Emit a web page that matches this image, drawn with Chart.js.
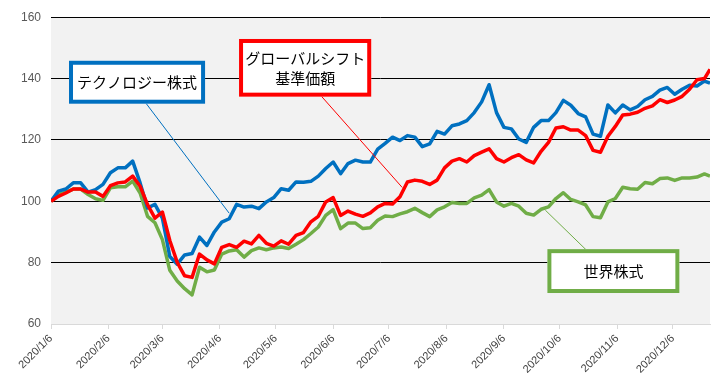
<!DOCTYPE html>
<html>
<head>
<meta charset="utf-8">
<script src="https://cdn.jsdelivr.net/npm/chart.js@4/dist/chart.umd.min.js"></script>
<style>
html,body{margin:0;padding:0;background:#fff;}
#c{display:block;}
</style>
</head>
<body>
<canvas id="c" width="720" height="388"></canvas>
<script>
const dates = ['2020/1/6','2020/1/10','2020/1/14','2020/1/18','2020/1/22','2020/1/26','2020/1/30','2020/2/3','2020/2/7','2020/2/11','2020/2/15','2020/2/19','2020/2/23','2020/2/27','2020/3/2','2020/3/6','2020/3/10','2020/3/14','2020/3/18','2020/3/22','2020/3/26','2020/3/30','2020/4/3','2020/4/7','2020/4/11','2020/4/15','2020/4/19','2020/4/23','2020/4/27','2020/5/1','2020/5/5','2020/5/9','2020/5/13','2020/5/17','2020/5/21','2020/5/25','2020/5/29','2020/6/2','2020/6/6','2020/6/10','2020/6/14','2020/6/18','2020/6/22','2020/6/26','2020/6/30','2020/7/4','2020/7/8','2020/7/12','2020/7/16','2020/7/20','2020/7/24','2020/7/28','2020/8/1','2020/8/5','2020/8/9','2020/8/13','2020/8/17','2020/8/21','2020/8/25','2020/8/29','2020/9/2','2020/9/6','2020/9/10','2020/9/14','2020/9/18','2020/9/22','2020/9/26','2020/9/30','2020/10/4','2020/10/8','2020/10/12','2020/10/16','2020/10/20','2020/10/24','2020/10/28','2020/11/1','2020/11/5','2020/11/9','2020/11/13','2020/11/17','2020/11/21','2020/11/25','2020/11/29','2020/12/3','2020/12/7','2020/12/11','2020/12/15','2020/12/19','2020/12/23','2020/12/26'];

const techValues = [100,103.3,104,106,106,103,103.8,105.5,109.3,110.9,110.9,113.1,106,97.8,99,94.5,82,79.5,82.5,83,88.3,85.6,90,93.2,94.3,99,98.1,98.4,97.6,99.8,101.2,104.1,103.6,106.3,106.2,106.5,108.2,110.7,112.8,109,112.3,113.4,112.8,112.8,117,118.9,120.9,119.8,121.4,120.9,117.8,118.7,122.8,121.9,124.6,125.2,126.3,128.9,132.4,138,128.9,124.1,123.6,120.3,119.2,124.1,126.3,126.3,128.9,132.9,131.3,128.6,127.5,121.9,121.2,131.4,128.8,131.4,129.8,130.9,133.1,134.2,136.2,137.1,134.9,136.5,137.8,137.6,139.2,138.5];

const fundValues = [100,101.6,102.7,104,104,103,103,101.6,105.1,106,106.3,108.2,104.9,98.9,94.5,96.5,87.2,80.1,75.7,75.2,82.8,80.9,79.6,85,85.9,85,87,86.1,88.9,86.3,85.4,87.1,86,88.9,89.8,93.3,95.1,99.8,101.2,95.4,96.8,95.8,95.1,96.2,98.2,99.3,99.1,101.5,106.3,106.9,106.5,105.5,106.9,110.9,113.1,113.9,112.8,114.9,116,117.1,113.9,112.8,114.2,115.2,113.5,112.5,116.3,119.2,123.9,124.3,123.2,123.2,121.4,116.6,116,121.2,124.4,128.1,128.4,129,130.3,131.1,133.1,132.2,133,134.2,136.5,139.6,140,143];

const worldValues = [100,102.2,103,104,104,102.2,100.8,100.3,104.4,104.7,104.7,106.6,102.7,95.1,93,87.5,77.5,74,71.5,69.5,78.5,77,77.6,82.8,83.8,84.2,81.8,83.9,84.8,84.2,84.8,85.1,84.6,86,87.5,89.5,91.6,95.4,97.3,91.1,92.9,92.9,91.1,91.4,93.8,95.2,95,95.9,96.6,97.7,96.3,95,97.2,98.2,99.6,99.3,99.3,101.1,102,103.8,99.8,98.4,99.3,98.4,96.1,95.5,97.4,98.2,100.9,102.8,100.6,99.8,98.8,95,94.6,99.8,100.9,104.6,104.1,103.9,106.1,105.7,107.4,107.6,106.8,107.6,107.6,107.9,108.9,108.2];

const tickLabels = ['2020/1/6','2020/2/6','2020/3/6','2020/4/6','2020/5/6','2020/6/6','2020/7/6','2020/8/6','2020/9/6','2020/10/6','2020/11/6','2020/12/6'];

const seriesNames = ['グローバルシフト基準価額','テクノロジー株式','世界株式'];

function dayOffset(s){
  const p = s.split('/').map(Number);
  return Math.round((Date.UTC(p[0],p[1]-1,p[2]) - Date.UTC(2020,0,6))/86400000);
}
function pts(vals){ return dates.map((d,i)=>({x:dayOffset(d), y:vals[i]})); }

// callouts anchored in data coordinates (day offset, value)
const callouts = [
  {text:['テクノロジー株式'], color:'#0070c0', box:[9.7,145.8,83,131.8], line:[50.1,132.8,96,96.1]},
  {text:['グローバルシフト','基準価額'], color:'#ff0000', box:[101.3,152.9,172.5,134.1], line:[145,134.7,189.2,104.5]},
  {text:['世界株式'], color:'#70ad47', box:[267.4,84.4,338.5,70.1], line:[266.3,97.1,288.4,84.1]}
];

const bgPlugin = {
  id:'bg',
  beforeDraw(chart){
    const {ctx, chartArea:a} = chart;
    ctx.save();
    ctx.fillStyle = '#ffffff';
    ctx.fillRect(0,0,chart.width,chart.height);
    ctx.fillStyle = '#f2f2f2';
    ctx.fillRect(a.left,a.top,a.right-a.left,a.bottom-a.top);
    ctx.restore();
  }
};

const calloutPlugin = {
  id:'callouts',
  afterDraw(chart){
    const ctx = chart.ctx, xs = chart.scales.x, ys = chart.scales.y;
    ctx.save();
    callouts.forEach(c=>{
      const lx1 = xs.getPixelForValue(c.line[0]), ly1 = ys.getPixelForValue(c.line[1]);
      const lx2 = xs.getPixelForValue(c.line[2]), ly2 = ys.getPixelForValue(c.line[3]);
      ctx.strokeStyle = c.color; ctx.lineWidth = 1;
      ctx.beginPath(); ctx.moveTo(lx1,ly1); ctx.lineTo(lx2,ly2); ctx.stroke();
      const x1 = xs.getPixelForValue(c.box[0]), y1 = ys.getPixelForValue(c.box[1]);
      const x2 = xs.getPixelForValue(c.box[2]), y2 = ys.getPixelForValue(c.box[3]);
      ctx.fillStyle = '#ffffff';
      ctx.fillRect(x1,y1,x2-x1,y2-y1);
      ctx.lineWidth = 4; ctx.strokeStyle = c.color;
      ctx.strokeRect(x1+2,y1+2,x2-x1-4,y2-y1-4);
      ctx.fillStyle = '#000000';
      ctx.font = '15px "Noto Sans CJK JP", sans-serif';
      ctx.textAlign = 'center'; ctx.textBaseline = 'middle';
      const cx = (x1+x2)/2, cy = (y1+y2)/2, lh = 20;
      c.text.forEach((t,i)=>{
        ctx.fillText(t, cx, cy + (i-(c.text.length-1)/2)*lh);
      });
    });
    ctx.restore();
  }
};

new Chart(document.getElementById('c'), {
  type:'line',
  data:{
    datasets:[
      {label:seriesNames[0], data:pts(fundValues), borderColor:'#ff0000', borderWidth:3.5},
      {label:seriesNames[1], data:pts(techValues), borderColor:'#0070c0', borderWidth:3.5},
      {label:seriesNames[2], data:pts(worldValues), borderColor:'#70ad47', borderWidth:3.5}
    ]
  },
  options:{
    responsive:false,
    animation:false,
    devicePixelRatio:1,
    parsing:false,
    elements:{point:{radius:0}, line:{tension:0, borderJoinStyle:'round'}},
    layout:{padding:{top:9, right:10, left:0, bottom:0}},
    plugins:{legend:{display:false}, tooltip:{enabled:false}},
    scales:{
      x:{
        type:'linear', min:0, max:355,
        afterBuildTicks(s){ s.ticks = tickLabels.map(t=>({value:dayOffset(t)})); },
        afterFit(s){ s.height = 64; },
        ticks:{
          autoSkip:false, maxRotation:45, minRotation:45,
          color:'#404040', font:{size:11, family:'"Liberation Sans", sans-serif'},
          callback:(v,i)=>tickLabels[i]
        },
        grid:{drawOnChartArea:false, drawTicks:true, tickLength:5, color:'#d9d9d9'},
        border:{display:true, color:'#d9d9d9'}
      },
      y:{
        min:60, max:160,
        afterFit(s){ s.width = 51; },
        ticks:{stepSize:20, color:'#595959', font:{size:12, family:'"Liberation Sans", sans-serif'}, padding:10},
        grid:{drawTicks:false, color:(c)=> c.tick && c.tick.value===60 ? 'rgba(0,0,0,0)' : '#000000', lineWidth:1},
        border:{display:false}
      }
    }
  },
  plugins:[bgPlugin, calloutPlugin]
});
</script>
</body>
</html>
